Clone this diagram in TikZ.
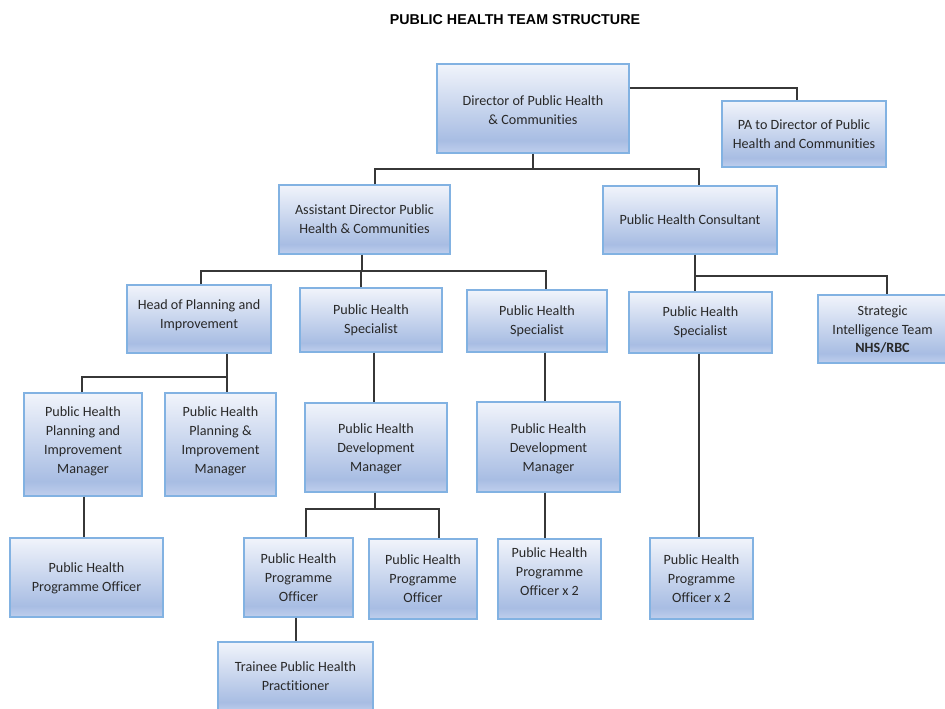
\documentclass[tikz,border=0pt]{standalone}
\usepackage{fontspec}
\setmainfont{Carlito}[Ligatures=NoCommon]
\newfontfamily\titlefont{Liberation Sans}
\usetikzlibrary{fit}
\definecolor{ptop}{RGB}{241,244,251}
\definecolor{pmid}{RGB}{168,189,227}
\definecolor{pbot}{RGB}{192,207,237}
\definecolor{pborder}{RGB}{130,178,226}
\definecolor{ptext}{RGB}{40,40,40}
\definecolor{pline}{RGB}{55,55,55}
\pgfdeclareverticalshading{boxshade}{100bp}{color(0bp)=(pbot); color(25bp)=(pbot); color(32bp)=(pmid); color(75bp)=(ptop); color(100bp)=(ptop)}
\tikzset{
  obox/.style={draw=pborder, line width=0.9pt, shading=boxshade, inner sep=0pt},
  otext/.style={inner sep=0pt, align=center, text=ptext, font=\fontsize{10.6}{14.2}\selectfont},
  conn/.style={draw=pline, line width=1pt}
}
\newcommand{\obox}[7]{\node[obox, fit={(#2,#3)(#4,#5)}] (#1) {};
  \node[otext] (#1t) at ([yshift={-0.75pt*(#6)}]#1.center) {#7};}
\begin{document}
\begin{tikzpicture}[x=0.75pt,y=-0.75pt]
\clip (0,0) rectangle (945,709);
\fill[white] (0,0) rectangle (945,709);
\node[font=\titlefont\bfseries\fontsize{10.7}{12}\selectfont, text=black] (title) at (515,19.5) {PUBLIC HEALTH TEAM STRUCTURE};
% boxes
\obox{dir}{437}{64}{629}{153}{1.5}{Director of Public Health\\\& Communities}
\obox{pa}{722}{101}{886}{167}{0.5}{PA to Director of Public\\Health and Communities}
\obox{asst}{279}{185}{450}{254}{-0.5}{Assistant Director Public\\Health \& Communities}
\obox{cons}{603}{186}{777}{254}{0}{Public Health Consultant}
\obox{head}{127}{285}{271}{353}{-3.5}{Head of Planning and\\Improvement}
\obox{sp1}{300}{288}{442}{352}{0}{Public Health\\Specialist}
\obox{sp2}{467}{290}{607}{352}{0}{Public Health\\Specialist}
\obox{sp3}{629}{292}{772}{353}{0}{Public Health\\Specialist}
\obox{strat}{818}{295}{947}{363}{0.5}{Strategic\\Intelligence Team\\\textbf{NHS/RBC}}
\obox{pa1}{24}{393}{142}{496}{-3.5}{Public Health\\Planning and\\Improvement\\Manager}
\obox{pa2}{165}{393}{276}{496}{-3}{Public Health\\Planning \&\\Improvement\\Manager}
\obox{dm1}{305}{403}{447}{492}{1}{Public Health\\Development\\Manager}
\obox{dm2}{477}{402}{620}{492}{2}{Public Health\\Development\\Manager}
\obox{po1}{10}{538}{163}{617}{1}{Public Health\\Programme Officer}
\obox{po2}{244}{538}{353}{617}{0}{Public Health\\Programme\\Officer}
\obox{po3}{369}{539}{477}{619}{0}{Public Health\\Programme\\Officer}
\obox{po4}{498}{539}{601}{619}{-7.5}{Public Health\\Programme\\Officer x 2}
\obox{po5}{650}{538}{753}{619}{0}{Public Health\\Programme\\Officer x 2}
\obox{tr}{218}{642}{373}{712}{-1}{Trainee Public Health\\Practitioner}
% connectors
\draw[conn] (dir.east |- 0,88) -- (797,88) -- (pa.north -| 797,0);
\draw[conn] (dir.south -| 533,0) -- (533,169);
\draw[conn] (asst.north -| 375,0) -- (375,169) -- (699,169) -- (cons.north -| 699,0);
\draw[conn] (asst.south -| 362,0) -- (362,271);
\draw[conn] (head.north -| 201,0) -- (201,271) -- (546,271) -- (sp2.north -| 546,0);
\draw[conn] (sp1.north -| 361,0) -- (361,271);
\draw[conn] (cons.south -| 695,0) -- (sp3.north -| 695,0);
\draw[conn] (695,276) -- (887,276) -- (strat.north -| 887,0);
\draw[conn] (head.south -| 227,0) -- (227,377);
\draw[conn] (pa1.north -| 82,0) -- (82,377) -- (227,377) -- (pa2.north -| 227,0);
\draw[conn] (pa1.south -| 84,0) -- (po1.north -| 84,0);
\draw[conn] (sp1.south -| 374,0) -- (dm1.north -| 374,0);
\draw[conn] (sp2.south -| 545,0) -- (dm2.north -| 545,0);
\draw[conn] (dm1.south -| 375,0) -- (375,509);
\draw[conn] (po2.north -| 306,0) -- (306,509) -- (439,509) -- (po3.north -| 439,0);
\draw[conn] (dm2.south -| 545,0) -- (po4.north -| 545,0);
\draw[conn] (sp3.south -| 699,0) -- (po5.north -| 699,0);
\draw[conn] (po2.south -| 296,0) -- (tr.north -| 296,0);
\end{tikzpicture}
\end{document}
